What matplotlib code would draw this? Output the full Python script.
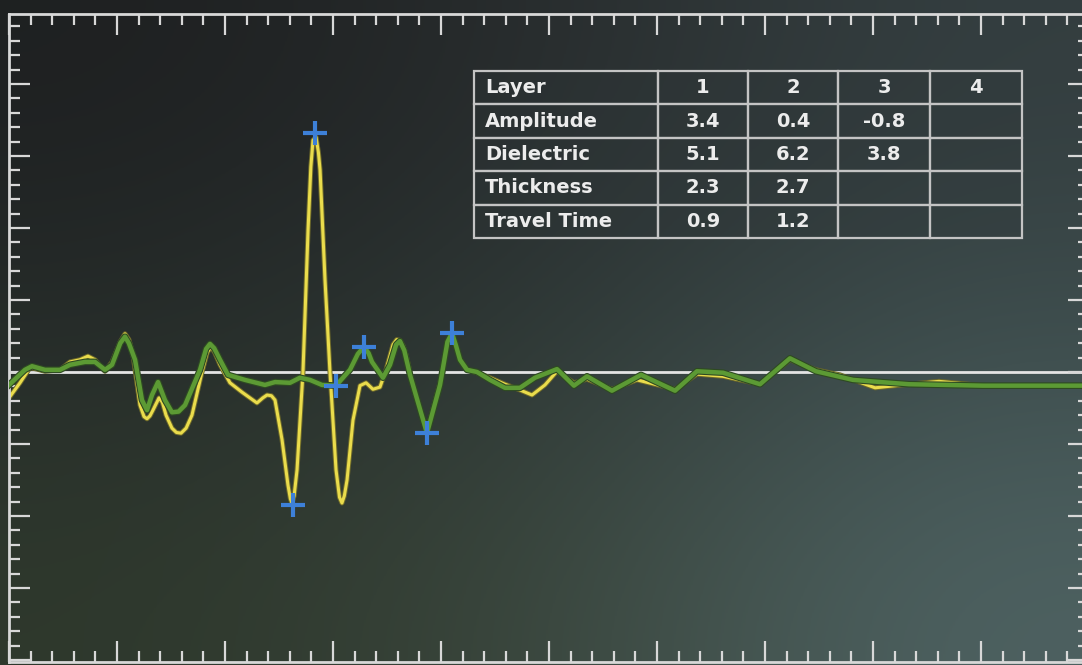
import numpy as np
import matplotlib
matplotlib.use('Agg')
import matplotlib.pyplot as plt
import matplotlib.patheffects as pe
from matplotlib.ticker import MultipleLocator

# measured trace (yellow): time, amplitude
raw_t = [0.0, 0.102, 0.194, 0.26, 0.333, 0.472, 0.565, 0.657, 0.731, 0.796, 0.889,
         0.954, 1.03, 1.074, 1.11, 1.148, 1.213, 1.25, 1.278, 1.305, 1.333, 1.389,
         1.42, 1.454, 1.509, 1.55, 1.593, 1.64,
         1.694, 1.787, 1.835, 1.870, 1.905, 1.954, 2.046, 2.157, 2.296, 2.35, 2.389,
         2.43, 2.463, 2.528,
         2.583, 2.605, 2.620, 2.640, 2.667, 2.722, 2.769, 2.795, 2.815, 2.843, 2.865,
         2.880, 2.926, 2.972,
         3.028, 3.060, 3.083, 3.105, 3.130, 3.185, 3.250, 3.306, 3.370, 3.435, 3.491,
         3.556, 3.590,
         3.620, 3.650, 3.676, 3.750, 3.870, 3.991, 4.06, 4.102, 4.14, 4.176, 4.241,
         4.333, 4.454,
         4.593, 4.731, 4.843, 4.963, 5.074, 5.231, 5.352, 5.583, 5.815, 6.167,
         6.370, 6.611, 6.954, 7.231, 7.472, 7.694, 8.019, 8.333, 8.611, 9.019,
         9.935]
raw_a = [-0.36, -0.15, 0.06, 0.04, 0.01, 0.03, 0.14, 0.17, 0.22, 0.17, 0.01,
         0.14, 0.42, 0.53, 0.45, 0.24, -0.46, -0.62, -0.65, -0.61, -0.53, -0.36,
         -0.42, -0.60, -0.78, -0.84, -0.85, -0.78,
         -0.60, 0.0, 0.27, 0.35, 0.27, 0.10, -0.15, -0.28, -0.43, -0.36, -0.32,
         -0.33, -0.39, -0.94,
         -1.57, -1.76, -1.82, -1.72, -1.36, 0.0, 1.97, 2.85, 3.22, 3.26, 3.05,
         2.81, 1.28, 0.0,
         -1.36, -1.74, -1.82, -1.72, -1.50, -0.67, -0.19, -0.15, -0.24, -0.21, 0.03,
         0.38, 0.45,
         0.44, 0.36, 0.24, -0.25, -0.83, -0.15, 0.42, 0.53, 0.36, 0.17, 0.03,
         -0.01, -0.08,
         -0.17, -0.25, -0.32, -0.18, 0.01, -0.15, -0.10, -0.24, -0.11, -0.24,
         -0.03, -0.06, -0.17, 0.17, 0.03, -0.04, -0.22, -0.17, -0.13, -0.19,
         -0.19]

# model trace (green)
model_t = [0.0, 0.148, 0.213, 0.333, 0.472, 0.565, 0.704, 0.796, 0.889, 0.954,
           1.03, 1.074, 1.11, 1.167, 1.231, 1.278, 1.324, 1.380, 1.444, 1.509,
           1.57, 1.630, 1.769,
           1.825, 1.861, 1.900, 1.954, 2.028, 2.185, 2.370, 2.463, 2.602, 2.694,
           2.787, 2.898,
           3.028, 3.157, 3.230, 3.287, 3.330, 3.361, 3.463, 3.528, 3.585, 3.620,
           3.660, 3.713, 3.870, 3.991,
           4.060, 4.102, 4.140, 4.176, 4.241, 4.333, 4.454, 4.593, 4.731, 4.870,
           5.074, 5.231,
           5.352, 5.583, 5.852, 6.167, 6.370, 6.611, 6.954, 7.231, 7.472, 7.815,
           8.333, 9.019, 9.935]
model_a = [-0.18, 0.03, 0.08, 0.03, 0.03, 0.10, 0.14, 0.14, 0.03, 0.10,
           0.40, 0.49, 0.40, 0.17, -0.39, -0.53, -0.32, -0.14, -0.39, -0.56,
           -0.55, -0.46, 0.03,
           0.32, 0.39, 0.33, 0.17, -0.04, -0.11, -0.18, -0.14, -0.15, -0.08,
           -0.11, -0.18,
           -0.19, 0.03, 0.25, 0.35, 0.26, 0.14, -0.08, 0.10, 0.38, 0.43,
           0.30, -0.04, -0.85, -0.18,
           0.42, 0.54, 0.36, 0.17, 0.03, 0.0, -0.11, -0.22, -0.22, -0.08,
           0.04, -0.19,
           -0.06, -0.26, -0.04, -0.26, 0.01, -0.01, -0.17, 0.19, 0.01, -0.11,
           -0.17, -0.19, -0.19]

# picked reflections (blue crosses)
pick_t = [2.833, 2.630, 3.028, 3.287, 3.870, 4.102]
pick_a = [3.32, -1.85, -0.19, 0.35, -0.85, 0.54]

# layer table
col_labels = ['Layer', '1', '2', '3', '4']
row_names = ['Amplitude', 'Dielectric', 'Thickness', 'Travel Time']
amplitude = ['3.4', '0.4', '-0.8', '']
dielectric = ['5.1', '6.2', '3.8', '']
thickness = ['2.3', '2.7', '', '']
travel_time = ['0.9', '1.2', '', '']


def main():
    fig = plt.figure(figsize=(10.82, 6.65), dpi=100)

    # background gradient
    bg = fig.add_axes([0, 0, 1, 1])
    grid = np.array([
        [[30, 32, 33], [40, 44, 45], [52, 62, 64]],
        [[38, 44, 42], [46, 56, 54], [62, 78, 78]],
        [[46, 56, 44], [58, 70, 60], [78, 98, 98]],
    ]) / 255.0
    bg.imshow(grid, aspect='auto', interpolation='bicubic', extent=[0, 1, 0, 1])
    bg.axis('off')

    W, H = 1082, 665
    ax = fig.add_axes([9 / W, 1 - 662 / H, 1080 / W, 648 / H])
    ax.patch.set_alpha(0)
    ax.set_xlim(0, 10)
    ax.set_ylim(-4.028, 4.972)

    frame = '#d8d8d8'
    for s in ax.spines.values():
        s.set_color(frame)
        s.set_linewidth(2)
    ax.xaxis.set_major_locator(MultipleLocator(1))
    ax.xaxis.set_minor_locator(MultipleLocator(0.2))
    ax.yaxis.set_major_locator(MultipleLocator(1))
    ax.yaxis.set_minor_locator(MultipleLocator(0.2))
    ax.tick_params(which='both', direction='in', top=True, right=True,
                   labelbottom=False, labelleft=False, color=frame, width=1.6)
    ax.tick_params(which='major', length=15)
    ax.tick_params(which='minor', length=8)

    ax.axhline(0, color='#e4e4e4', lw=2, zorder=1)

    ax.plot(raw_t, raw_a, color='#eadc4c', lw=2.2, solid_joinstyle='round',
            zorder=2, path_effects=[pe.Stroke(linewidth=3.6, foreground='#6e6a2a'),
                                    pe.Normal()])
    ax.plot(model_t, model_a, color='#5c9a34', lw=3.2, solid_joinstyle='round',
            zorder=3, path_effects=[pe.Stroke(linewidth=4.8, foreground='#2e4a22'),
                                    pe.Normal()])
    ax.plot(pick_t, pick_a, ls='none', marker='+', ms=17, mew=3,
            color='#3d80d8', zorder=4)

    # table overlay
    cells = [amplitude, dielectric, thickness, travel_time]
    text = [col_labels] + [[n] + v for n, v in zip(row_names, cells)]
    tab = bg.table(cellText=text, cellLoc='center',
                   bbox=[474 / W, 1 - 238 / H, 548 / W, 167 / H],
                   colWidths=[184, 90, 90, 92, 92])
    tab.auto_set_font_size(False)
    for (r, c), cell in tab.get_celld().items():
        cell.set_edgecolor('#c4c4c4')
        cell.set_linewidth(1.6)
        cell.set_facecolor((0.18, 0.21, 0.22, 0.35))
        t = cell.get_text()
        t.set_color('#ececec')
        t.set_fontsize(14)
        t.set_fontfamily('DejaVu Sans')
        t.set_fontweight('bold')
        if c == 0:
            cell.PAD = 0.06
            cell._loc = 'left'
            t.set_horizontalalignment('left')

    fig.savefig('out.png', dpi=100)


if __name__ == '__main__':
    main()
